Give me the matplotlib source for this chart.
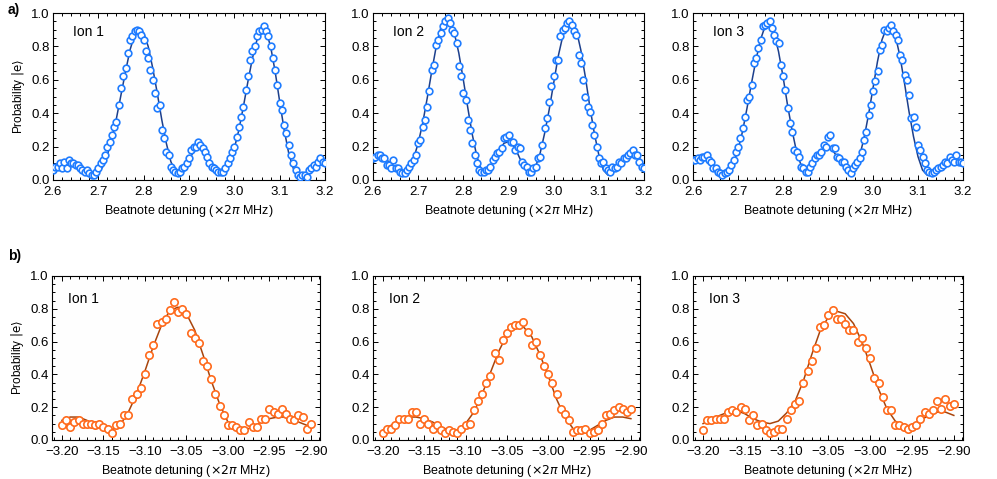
import numpy as np
import matplotlib
matplotlib.use('Agg')
import matplotlib.pyplot as plt
from matplotlib.ticker import MultipleLocator, FormatStrFormatter, FuncFormatter

plt.rcParams['font.family'] = ['Liberation Sans', 'DejaVu Sans']
plt.rcParams['mathtext.fontset'] = 'dejavusans'

# ---- panel a) : 2.6 .. 3.2 MHz ----
xa_data = np.round(np.arange(2.600, 3.2001, 0.005), 3)
xa_fit = np.round(np.arange(2.60, 3.2001, 0.01), 2)

a1_data = [0.06, 0.08, 0.08, 0.10, 0.07, 0.11, 0.07, 0.12, 0.10, 0.10,
           0.09, 0.09, 0.07, 0.06, 0.05, 0.06, 0.04, 0.03, 0.03, 0.05,
           0.07, 0.10, 0.12, 0.15, 0.20, 0.23, 0.27, 0.32, 0.35, 0.45,
           0.55, 0.62, 0.67, 0.76, 0.84, 0.86, 0.89, 0.90, 0.89, 0.87,
           0.84, 0.77, 0.73, 0.66, 0.60, 0.52, 0.43, 0.45, 0.30, 0.25,
           0.17, 0.15, 0.08, 0.06, 0.05, 0.04, 0.05, 0.07, 0.08, 0.10,
           0.13, 0.18, 0.20, 0.20, 0.23, 0.21, 0.19, 0.17, 0.14, 0.10,
           0.08, 0.07, 0.06, 0.05, 0.05, 0.05, 0.07, 0.10, 0.13, 0.17,
           0.20, 0.26, 0.32, 0.38, 0.44, 0.54, 0.62, 0.72, 0.77, 0.80,
           0.86, 0.89, 0.90, 0.92, 0.89, 0.86, 0.80, 0.73, 0.66, 0.57,
           0.46, 0.42, 0.33, 0.28, 0.21, 0.15, 0.10, 0.06, 0.03, 0.02,
           0.03, 0.03, 0.02, 0.06, 0.07, 0.09, 0.08, 0.11, 0.13, 0.11,
           0.10]
a1_fit = [0.05, 0.07, 0.08, 0.09, 0.09, 0.09, 0.08, 0.06, 0.04, 0.02,
          0.04, 0.08, 0.15, 0.25, 0.37, 0.51, 0.65, 0.78, 0.87, 0.91,
          0.88, 0.80, 0.67, 0.52, 0.36, 0.22, 0.11, 0.05, 0.04, 0.07,
          0.12, 0.17, 0.20, 0.19, 0.15, 0.10, 0.06, 0.04, 0.06, 0.11,
          0.19, 0.30, 0.44, 0.59, 0.73, 0.84, 0.90, 0.89, 0.80, 0.65,
          0.47, 0.30, 0.16, 0.07, 0.03, 0.02, 0.03, 0.05, 0.08, 0.10,
          0.10]

a2_data = [0.13, 0.14, 0.15, 0.15, 0.13, 0.13, 0.09, 0.09, 0.07, 0.12,
           0.07, 0.07, 0.05, 0.04, 0.04, 0.06, 0.08, 0.10, 0.12, 0.15,
           0.22, 0.24, 0.32, 0.36, 0.44, 0.53, 0.66, 0.69, 0.81, 0.84,
           0.88, 0.92, 0.95, 0.97, 0.94, 0.90, 0.88, 0.82, 0.68, 0.62,
           0.52, 0.48, 0.36, 0.30, 0.22, 0.15, 0.10, 0.06, 0.05, 0.05,
           0.06, 0.06, 0.08, 0.12, 0.14, 0.16, 0.17, 0.19, 0.25, 0.26,
           0.27, 0.23, 0.23, 0.18, 0.20, 0.19, 0.11, 0.09, 0.08, 0.05,
           0.05, 0.07, 0.08, 0.13, 0.14, 0.21, 0.31, 0.37, 0.47, 0.56,
           0.62, 0.72, 0.72, 0.86, 0.90, 0.91, 0.94, 0.95, 0.93, 0.89,
           0.87, 0.75, 0.70, 0.60, 0.50, 0.44, 0.41, 0.33, 0.27, 0.20,
           0.13, 0.10, 0.11, 0.07, 0.06, 0.05, 0.08, 0.07, 0.08, 0.11,
           0.10, 0.13, 0.13, 0.15, 0.16, 0.18, 0.15, 0.15, 0.11, 0.08,
           0.07]
a2_fit = [0.13, 0.14, 0.14, 0.12, 0.10, 0.07, 0.04, 0.04, 0.07, 0.13,
          0.22, 0.34, 0.49, 0.65, 0.80, 0.91, 0.96, 0.95, 0.88, 0.76,
          0.60, 0.43, 0.27, 0.14, 0.06, 0.05, 0.08, 0.13, 0.18, 0.22,
          0.23, 0.21, 0.16, 0.10, 0.06, 0.05, 0.08, 0.16, 0.28, 0.42,
          0.58, 0.74, 0.86, 0.94, 0.95, 0.90, 0.78, 0.62, 0.44, 0.28,
          0.15, 0.06, 0.03, 0.04, 0.07, 0.11, 0.14, 0.16, 0.16, 0.13,
          0.08]

a3_data = [0.12, 0.12, 0.13, 0.12, 0.14, 0.14, 0.15, 0.12, 0.11, 0.07,
           0.07, 0.05, 0.04, 0.03, 0.04, 0.05, 0.06, 0.09, 0.12, 0.17,
           0.20, 0.25, 0.31, 0.38, 0.48, 0.50, 0.57, 0.70, 0.73, 0.79,
           0.84, 0.92, 0.93, 0.94, 0.95, 0.91, 0.87, 0.83, 0.82, 0.69,
           0.62, 0.54, 0.43, 0.34, 0.29, 0.18, 0.17, 0.14, 0.08, 0.07,
           0.05, 0.05, 0.08, 0.10, 0.13, 0.15, 0.15, 0.17, 0.21, 0.20,
           0.26, 0.27, 0.19, 0.19, 0.14, 0.13, 0.11, 0.11, 0.08, 0.06,
           0.04, 0.07, 0.09, 0.11, 0.13, 0.17, 0.24, 0.29, 0.39, 0.45,
           0.53, 0.59, 0.65, 0.78, 0.81, 0.90, 0.89, 0.91, 0.93, 0.89,
           0.87, 0.84, 0.75, 0.72, 0.63, 0.60, 0.51, 0.37, 0.38, 0.32,
           0.21, 0.18, 0.14, 0.10, 0.06, 0.05, 0.04, 0.05, 0.06, 0.07,
           0.08, 0.09, 0.11, 0.10, 0.14, 0.12, 0.11, 0.15, 0.11, 0.11,
           0.10]
a3_fit = [0.11, 0.12, 0.13, 0.13, 0.10, 0.07, 0.04, 0.03, 0.05, 0.10,
          0.18, 0.29, 0.43, 0.58, 0.72, 0.84, 0.92, 0.93, 0.88, 0.77,
          0.62, 0.45, 0.30, 0.17, 0.09, 0.05, 0.06, 0.10, 0.15, 0.19,
          0.20, 0.18, 0.14, 0.10, 0.06, 0.04, 0.07, 0.14, 0.25, 0.39,
          0.55, 0.71, 0.84, 0.91, 0.92, 0.86, 0.74, 0.58, 0.41, 0.26,
          0.14, 0.06, 0.03, 0.03, 0.05, 0.08, 0.10, 0.12, 0.12, 0.11,
          0.10]

# ---- panel b) : -3.20 .. -2.90 MHz ----
xb_data = np.round(np.arange(-3.200, -2.8999, 0.005), 3)
xb_fit = np.round(np.arange(-3.20, -2.8999, 0.01), 2)

b1_data = [0.09, 0.12, 0.08, 0.11, 0.12, 0.10, 0.10, 0.10, 0.09, 0.10,
           0.08, 0.07, 0.04, 0.09, 0.10, 0.15, 0.15, 0.25, 0.28, 0.32,
           0.40, 0.52, 0.58, 0.71, 0.72, 0.74, 0.79, 0.84, 0.78, 0.80,
           0.77, 0.65, 0.62, 0.59, 0.48, 0.45, 0.37, 0.28, 0.21, 0.15,
           0.09, 0.09, 0.08, 0.06, 0.06, 0.11, 0.08, 0.08, 0.13, 0.13,
           0.19, 0.17, 0.16, 0.19, 0.16, 0.13, 0.12, 0.15, 0.14, 0.07,
           0.10]
b1_fit = [0.12, 0.14, 0.14, 0.12, 0.09, 0.07, 0.06, 0.09, 0.17, 0.28,
          0.42, 0.57, 0.70, 0.79, 0.81, 0.77, 0.67, 0.52, 0.36, 0.22,
          0.11, 0.07, 0.06, 0.08, 0.11, 0.13, 0.14, 0.14, 0.12, 0.10,
          0.08]

b2_data = [0.04, 0.07, 0.07, 0.09, 0.13, 0.13, 0.13, 0.17, 0.17, 0.10,
           0.13, 0.10, 0.07, 0.09, 0.06, 0.04, 0.06, 0.05, 0.04, 0.07,
           0.09, 0.10, 0.18, 0.24, 0.28, 0.35, 0.39, 0.53, 0.49, 0.61,
           0.65, 0.69, 0.70, 0.70, 0.72, 0.66, 0.58, 0.60, 0.52, 0.45,
           0.40, 0.35, 0.28, 0.19, 0.16, 0.12, 0.05, 0.06, 0.06, 0.07,
           0.04, 0.05, 0.06, 0.10, 0.15, 0.16, 0.18, 0.20, 0.19, 0.17,
           0.19]
b2_fit = [0.06, 0.09, 0.12, 0.14, 0.14, 0.13, 0.11, 0.08, 0.06, 0.06,
          0.10, 0.17, 0.28, 0.41, 0.54, 0.64, 0.69, 0.69, 0.63, 0.52,
          0.39, 0.25, 0.14, 0.07, 0.05, 0.06, 0.09, 0.12, 0.14, 0.14,
          0.13]

b3_data = [0.06, 0.12, 0.12, 0.13, 0.13, 0.13, 0.17, 0.18, 0.17, 0.20,
           0.19, 0.12, 0.15, 0.09, 0.10, 0.06, 0.04, 0.05, 0.07, 0.07,
           0.13, 0.18, 0.22, 0.24, 0.35, 0.42, 0.48, 0.56, 0.69, 0.70,
           0.76, 0.79, 0.74, 0.74, 0.71, 0.67, 0.67, 0.60, 0.62, 0.56,
           0.50, 0.38, 0.35, 0.26, 0.18, 0.18, 0.09, 0.09, 0.08, 0.07,
           0.08, 0.09, 0.13, 0.17, 0.16, 0.18, 0.24, 0.19, 0.25, 0.21,
           0.22]
b3_fit = [0.10, 0.12, 0.15, 0.17, 0.18, 0.16, 0.13, 0.11, 0.10, 0.115,
          0.165, 0.235, 0.36, 0.52, 0.665, 0.75, 0.785, 0.77, 0.71, 0.60,
          0.46, 0.31, 0.19, 0.115, 0.085, 0.09, 0.12, 0.15, 0.17, 0.17,
          0.15]

ion_labels = ['Ion 1', 'Ion 2', 'Ion 3']

blue_pt, blue_ln = '#1f7cff', '#1c3f8c'
orange_pt, orange_ln = '#ff6a1c', '#a8440c'

W, H = 997, 479
fig = plt.figure(figsize=(W / 100, H / 100), dpi=100)


def box(l, t, r, b):
    return [l / W, 1 - b / H, (r - l) / W, (b - t) / H]


top_boxes = [box(53, 13, 325, 180), box(373, 13, 644, 180), box(693, 13, 963, 180)]
bot_boxes = [box(52, 276, 320, 440), box(373, 276, 640, 440), box(693, 276, 963, 440)]


def fmt(nd):
    return FuncFormatter(lambda v, p: f'{v:.{nd}f}'.replace('-', '\u2212'))


def style(ax, xmaj, xmin, nd):
    ax.set_ylim(0, 1.0)
    ax.yaxis.set_major_locator(MultipleLocator(0.2))
    ax.yaxis.set_minor_locator(MultipleLocator(0.05))
    ax.yaxis.set_major_formatter(FormatStrFormatter('%.1f'))
    ax.xaxis.set_major_locator(MultipleLocator(xmaj))
    ax.xaxis.set_minor_locator(MultipleLocator(xmin))
    ax.xaxis.set_major_formatter(fmt(nd))
    ax.tick_params(which='both', direction='in', top=True, right=True,
                   labelsize=9.5, width=0.7)
    ax.tick_params(axis='x', pad=4)
    ax.tick_params(axis='y', pad=2.5)
    ax.tick_params(which='major', length=3.5)
    ax.tick_params(which='minor', length=2)
    for s in ax.spines.values():
        s.set_linewidth(0.8)
    ax.set_facecolor('#fefefe')
    ax.set_xlabel(r'Beatnote detuning ($\times 2\pi$ MHz)', fontsize=9, labelpad=4)


top_sets = [(a1_data, a1_fit), (a2_data, a2_fit), (a3_data, a3_fit)]
for k, (d, f) in enumerate(top_sets):
    ax = fig.add_axes(top_boxes[k])
    ax.plot(xa_fit, f, color=blue_ln, lw=1.1, zorder=2)
    ax.plot(xa_data, d, 'o', ms=4.8, mfc='white', mec=blue_pt, mew=1.2, zorder=3)
    ax.set_xlim(2.6, 3.2)
    style(ax, 0.1, 0.02, 1)
    ax.text(0.074, 0.886, ion_labels[k], transform=ax.transAxes,
            fontsize=10, va='center')
    if k == 0:
        ax.set_ylabel(r'Probability $|\mathrm{e}\rangle$', fontsize=8.5, labelpad=3)

bot_sets = [(b1_data, b1_fit), (b2_data, b2_fit), (b3_data, b3_fit)]
for k, (d, f) in enumerate(bot_sets):
    ax = fig.add_axes(bot_boxes[k])
    ax.plot(xb_fit, f, color=orange_ln, lw=1.1, zorder=2)
    ax.plot(xb_data, d, 'o', ms=5.3, mfc='white', mec=orange_pt, mew=1.2, zorder=3)
    ax.set_xlim(-3.212, -2.889)
    style(ax, 0.05, 0.01, 2)
    ax.text(0.06, 0.86, ion_labels[k], transform=ax.transAxes,
            fontsize=10, va='center')
    if k == 0:
        ax.set_ylabel(r'Probability $|\mathrm{e}\rangle$', fontsize=8.5, labelpad=3)

fig.text(8 / W, 1 - 14 / H, 'a)', fontsize=10, fontweight='bold')
fig.text(8 / W, 1 - 260 / H, 'b)', fontsize=10, fontweight='bold')

fig.savefig('out.png', dpi=100)
